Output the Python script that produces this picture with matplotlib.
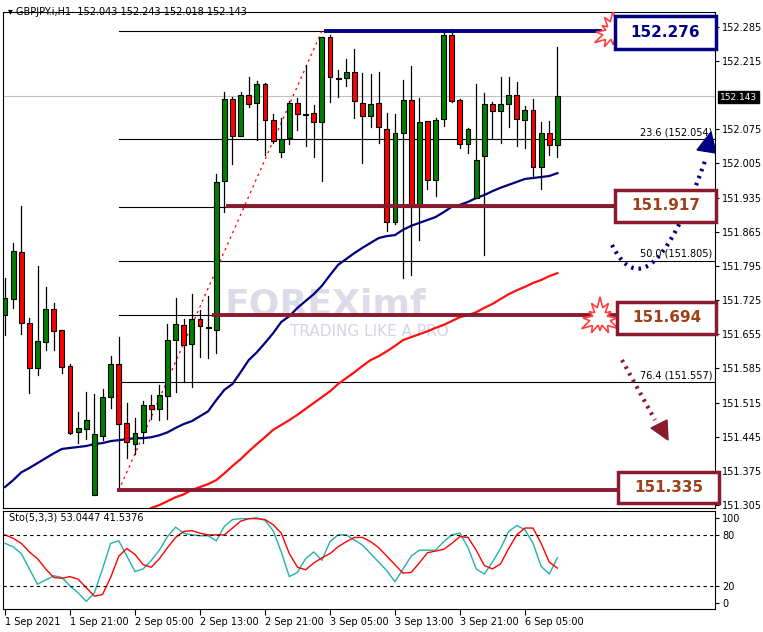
import numpy as np
import matplotlib
matplotlib.use("Agg")
import matplotlib.pyplot as plt
from matplotlib.patches import Rectangle, Polygon

# GBPJPY H1 candles
opens = [151.694, 151.727, 151.823, 151.678, 151.586, 151.639, 151.707, 151.664, 151.590, 151.454,
         151.461, 151.325, 151.446, 151.526, 151.594, 151.473, 151.430, 151.454, 151.510, 151.502,
         151.528, 151.643, 151.674, 151.635, 151.686, 151.670, 151.664, 151.969, 152.137, 152.061,
         152.145, 152.129, 152.168, 152.094, 152.028, 152.057, 152.129, 152.106, 152.108, 152.090,
         152.264, 152.180, 152.180, 152.192, 152.129, 152.102, 152.129, 152.076, 151.885, 152.067,
         152.135, 151.916, 152.092, 151.971, 152.096, 152.268, 152.135, 152.045, 151.934, 152.020,
         152.127, 152.112, 152.127, 152.145, 152.094, 152.115, 151.998, 152.067, 152.043]
highs = [151.770, 151.842, 151.918, 151.688, 151.795, 151.752, 151.719, 151.664, 151.594, 151.495,
         151.536, 151.532, 151.543, 151.610, 151.649, 151.514, 151.483, 151.518, 151.530, 151.551,
         151.676, 151.729, 151.686, 151.737, 151.705, 151.733, 151.983, 152.151, 152.141, 152.151,
         152.182, 152.174, 152.170, 152.106, 152.098, 152.133, 152.139, 152.207, 152.125, 152.264,
         152.268, 152.197, 152.219, 152.240, 152.190, 152.188, 152.192, 152.108, 152.106, 152.176,
         152.205, 152.139, 152.092, 152.098, 152.272, 152.281, 152.137, 152.078, 152.168, 152.149,
         152.131, 152.182, 152.182, 152.172, 152.123, 152.137, 152.090, 152.092, 152.243]
lows = [151.653, 151.709, 151.655, 151.534, 151.571, 151.623, 151.623, 151.575, 151.450, 151.432,
        151.440, 151.325, 151.438, 151.504, 151.336, 151.401, 151.409, 151.432, 151.481, 151.479,
        151.481, 151.536, 151.557, 151.547, 151.608, 151.606, 151.616, 151.905, 152.004, 152.061,
        152.121, 152.053, 152.022, 152.047, 152.018, 152.045, 152.074, 152.041, 152.018, 151.969,
        152.131, 152.141, 152.164, 152.098, 152.006, 152.080, 152.047, 151.866, 151.881, 151.770,
        151.776, 151.848, 151.953, 151.938, 152.082, 152.131, 152.037, 152.026, 151.934, 151.817,
        152.057, 152.047, 152.080, 152.041, 152.037, 151.975, 151.953, 152.022, 152.018]
closes = [151.729, 151.825, 151.678, 151.586, 151.641, 151.707, 151.661, 151.588, 151.452, 151.463,
          151.479, 151.450, 151.526, 151.594, 151.471, 151.434, 151.452, 151.510, 151.502, 151.530,
          151.643, 151.676, 151.633, 151.686, 151.672, 151.668, 151.967, 152.137, 152.061, 152.145,
          152.127, 152.168, 152.094, 152.051, 152.055, 152.129, 152.106, 152.104, 152.090, 152.264,
          152.182, 152.178, 152.192, 152.133, 152.102, 152.127, 152.080, 151.885, 152.067, 152.135,
          151.916, 152.090, 151.971, 152.094, 152.268, 152.133, 152.045, 152.076, 152.012, 152.127,
          152.112, 152.127, 152.145, 152.096, 152.115, 151.998, 152.067, 152.043, 152.143]

ma_blue = [151.342, 151.356, 151.372, 151.381, 151.391, 151.401, 151.411, 151.420, 151.422, 151.424,
           151.426, 151.430, 151.432, 151.436, 151.438, 151.440, 151.442, 151.442, 151.444, 151.448,
           151.454, 151.463, 151.471, 151.477, 151.487, 151.497, 151.520, 151.541, 151.553, 151.577,
           151.602, 151.618, 151.637, 151.657, 151.680, 151.692, 151.709, 151.723, 151.737, 151.754,
           151.776, 151.797, 151.809, 151.821, 151.832, 151.842, 151.852, 151.856, 151.858, 151.869,
           151.877, 151.883, 151.889, 151.895, 151.905, 151.916, 151.920, 151.926, 151.934, 151.940,
           151.948, 151.955, 151.961, 151.967, 151.973, 151.975, 151.977, 151.979, 151.985]
# slow MA only visible from candle 18 on
ma_red_start = 18
ma_red = [151.299, 151.305, 151.313, 151.321, 151.327, 151.336, 151.342, 151.348, 151.356, 151.370,
          151.385, 151.399, 151.415, 151.430, 151.444, 151.459, 151.469, 151.479, 151.490, 151.502,
          151.514, 151.526, 151.538, 151.553, 151.565, 151.577, 151.590, 151.602, 151.610, 151.620,
          151.631, 151.643, 151.649, 151.655, 151.661, 151.668, 151.674, 151.682, 151.690, 151.694,
          151.700, 151.709, 151.717, 151.727, 151.737, 151.745, 151.752, 151.760, 151.766, 151.774,
          151.780]

sto_k = [70, 66, 58, 40, 22, 27, 32, 30, 20, 12, 2, 12, 40, 70, 73, 55, 37, 40, 50, 62,
         78, 89, 82, 80, 79, 79, 73, 90, 98, 99, 99, 100, 97, 85, 60, 31, 36, 52, 60, 50,
         72, 80, 80, 74, 68, 58, 48, 38, 25, 40, 55, 62, 62, 62, 72, 80, 82, 65, 40, 34,
         48, 64, 84, 91, 86, 70, 43, 34, 53]
sto_d = [80, 76, 70, 60, 52, 40, 30, 29, 31, 28, 18, 8, 10, 30, 55, 64, 57, 45, 42, 52,
         65, 77, 84, 85, 82, 80, 80, 80, 88, 96, 99, 99, 98, 92, 82, 58, 42, 39, 47, 53,
         58, 66, 72, 77, 77, 72, 65, 55, 45, 35, 36, 47, 59, 61, 63, 70, 78, 77, 62, 44,
         40, 46, 64, 80, 88, 88, 70, 48, 41]

tick_idx = [0, 8, 16, 24, 32, 40, 48, 56, 64]
tick_labels = ["1 Sep 2021", "1 Sep 21:00", "2 Sep 05:00", "2 Sep 13:00", "2 Sep 21:00",
               "3 Sep 05:00", "3 Sep 13:00", "3 Sep 21:00", "6 Sep 05:00"]
price_ticks = [152.285, 152.215, 152.075, 152.005, 151.935, 151.865, 151.795, 151.725,
               151.655, 151.585, 151.515, 151.445, 151.375, 151.305]

fib_high = 152.276
fib_low = 151.335
fib_labels = {0.236: "23.6", 0.5: "50.0", 0.764: "76.4"}
fib_all = [0.0, 0.236, 0.382, 0.5, 0.618, 0.764, 1.0]
levels = [152.276, 151.917, 151.694, 151.335]
last_price = 152.143

W, H = 763, 632
plt.rcParams['font.family'] = 'DejaVu Sans'
plt.rcParams['font.size'] = 7
fig = plt.figure(figsize=(W / 100, H / 100), dpi=100)
fig.patch.set_facecolor('white')

ax = fig.add_axes([3 / W, 1 - 508 / H, 712 / W, 496 / H])
axs = fig.add_axes([3 / W, 1 - 609 / H, 712 / W, 98 / H])
XMIN, XMAX = -0.25, 87.4
YMIN, YMAX = 151.299, 152.315


def px(xp, yp):
    # pixel position -> data coords of the price panel
    x = XMIN + (xp - 3) / 712 * (XMAX - XMIN)
    y = YMAX - (yp - 12) / 496 * (YMAX - YMIN)
    return x, y


n = len(closes)
idx = np.arange(n)

# fib lines
x0 = 14
for r in fib_all:
    lvl = fib_high - r * (fib_high - fib_low)
    ax.plot([x0, XMAX], [lvl, lvl], color='black', lw=0.8, zorder=1)
    if r in fib_labels:
        ax.text(XMAX - 0.3, lvl + 0.004, f"{fib_labels[r]} ({lvl:.3f})", ha='right', va='bottom',
                fontsize=7, zorder=6)
ax.plot([x0, 39], [fib_low, fib_high], color='red', lw=0.9, ls=(0, (2, 3)), zorder=2)
ax.axhline(last_price, color='#c0c0c0', lw=0.8, zorder=1)

# MAs
ax.plot(idx, ma_blue, color='#000080', lw=1.6, zorder=3)
ax.plot(np.arange(ma_red_start, ma_red_start + len(ma_red)), ma_red, color='#ff1010', lw=1.6, zorder=3)

# candles
for i in range(n):
    up = closes[i] >= opens[i]
    ax.plot([i, i], [lows[i], highs[i]], color='black', lw=0.9, zorder=4)
    lo, hi = min(opens[i], closes[i]), max(opens[i], closes[i])
    ax.add_patch(Rectangle((i - 0.3, lo), 0.6, max(hi - lo, 0.0015),
                           facecolor='#008000' if up else '#ff0000', edgecolor='black', lw=0.8, zorder=5))

# key levels
navy, maroon = '#000080', '#8b1a2e'
ax.plot([39.5, px(600, 0)[0]], [levels[0]] * 2, color=navy, lw=2.8, zorder=6)
ax.plot([27.5, px(615, 0)[0]], [levels[1]] * 2, color=maroon, lw=2.8, zorder=6)
ax.plot([25.7, px(615, 0)[0]], [levels[2]] * 2, color=maroon, lw=2.8, zorder=6)
ax.plot([14, px(618, 0)[0]], [levels[3]] * 2, color=maroon, lw=2.8, zorder=6)


def box(x1, y1, x2, y2, txt, ec, tc):
    a = px(x1, y2)
    b = px(x2, y1)
    ax.add_patch(Rectangle(a, b[0] - a[0], b[1] - a[1], facecolor='white', edgecolor=ec, lw=2.5,
                           zorder=8, clip_on=False))
    ax.text((a[0] + b[0]) / 2, (a[1] + b[1]) / 2, txt, ha='center', va='center', fontsize=11,
            fontweight='bold', color=tc, zorder=9, clip_on=False)


box(615, 16, 716, 49, f"{levels[0]:.3f}", navy, navy)
box(615, 190, 716, 222, f"{levels[1]:.3f}", maroon, '#a0401a')
box(617, 302, 716, 334, f"{levels[2]:.3f}", maroon, '#a0401a')
box(618, 472, 719, 503, f"{levels[3]:.3f}", maroon, '#a0401a')


def star(cx, cy, r1, r2, k=12):
    ang = np.linspace(0, 2 * np.pi, 2 * k, endpoint=False)
    rr = np.where(np.arange(2 * k) % 2 == 0, r1, r2) * (1 + 0.25 * np.sin(ang * 3))
    pts = [px(cx + r * np.cos(a), cy + r * np.sin(a)) for r, a in zip(rr, ang)]
    ax.add_patch(Polygon(pts, closed=True, facecolor='white', edgecolor='#ff4040', lw=1.2, zorder=7))


star(613, 32, 17, 9)
star(600, 318, 17, 9)

# dotted arrows
t = np.linspace(0, 1, 40)
bx = (1 - t) ** 2 * 612 + 2 * (1 - t) * t * 650 + t ** 2 * 706
by = (1 - t) ** 2 * 245 + 2 * (1 - t) * t * 320 + t ** 2 * 158
pts = [px(a, b) for a, b in zip(bx, by)]
ax.plot([p[0] for p in pts], [p[1] for p in pts], color=navy, lw=3, ls=(0, (0.6, 1.2)), zorder=7)
ax.add_patch(Polygon([px(697, 150), px(716, 153), px(711, 132)], color=navy, zorder=7))
p1, p2 = px(622, 360), px(655, 420)
ax.plot([p1[0], p2[0]], [p1[1], p2[1]], color=maroon, lw=3, ls=(0, (0.6, 1.2)), zorder=7)
ax.add_patch(Polygon([px(651, 428), px(667, 420), px(668, 440)], color=maroon, zorder=7))

# watermark
ax.text(*px(225, 305), "FOREXimf", fontsize=26, fontweight='bold', color='#d4d4e4', alpha=0.8,
        va='center', ha='left', zorder=0)
ax.text(*px(290, 332), "TRADING LIKE A PRO", fontsize=11, color='#d4d4e4', va='center', ha='left', zorder=0)

ax.set_xlim(XMIN, XMAX)
ax.set_ylim(YMIN, YMAX)
ax.yaxis.tick_right()
ax.set_yticks(price_ticks)
ax.set_yticklabels([f"{v:.3f}" for v in price_ticks])
ax.tick_params(axis='y', length=3, pad=2, labelsize=7)
ax.set_xticks([])
ax.text(*px(720, 97), f"{last_price:.3f}", color='white', fontsize=6.5, va='center', ha='left',
        bbox=dict(facecolor='black', edgecolor='black', pad=1.2), clip_on=False, zorder=9)
ax.text(*px(8, 12), "▾ GBPJPY.i,H1  152.043 152.243 152.018 152.143", fontsize=7, va='center',
        ha='left')

# stochastic panel
axs.plot(idx, sto_k, color='#20b2aa', lw=1)
axs.plot(idx, sto_d, color='#ff0000', lw=1)
for lv in (80, 20):
    axs.axhline(lv, color='black', lw=0.8, ls=(0, (3, 3)))
axs.set_xlim(XMIN, XMAX)
axs.set_ylim(-7, 108)
axs.yaxis.tick_right()
axs.set_yticks([100, 80, 20, 0])
axs.tick_params(axis='y', length=3, pad=2, labelsize=7)
axs.set_xticks(tick_idx)
axs.set_xticklabels(tick_labels, ha='left')
axs.tick_params(axis='x', length=4, pad=2, labelsize=7)
axs.text(0.5, 100, f"Sto(5,3,3) {sto_k[-1] + 0.0447:.4f} {sto_d[-1] + 0.5376:.4f}", fontsize=7, va='center')

fig.savefig("out.png", dpi=100)
